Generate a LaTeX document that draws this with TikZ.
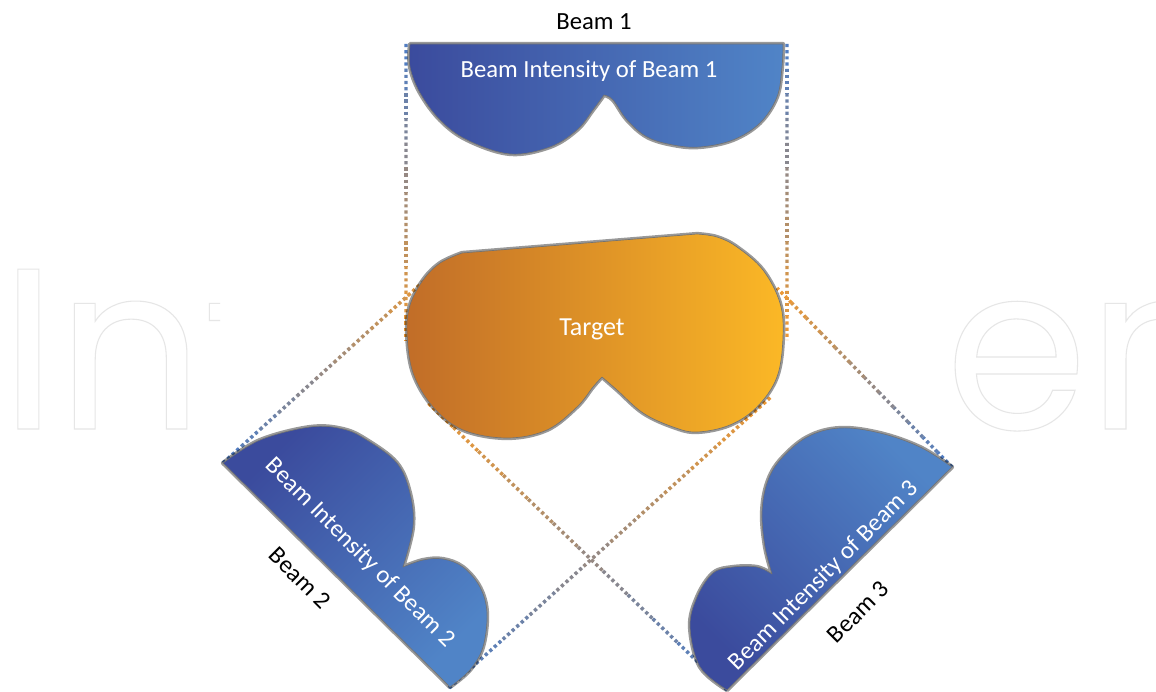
\documentclass[tikz,border=0pt]{standalone}
\usepackage{fontspec}
\setmainfont{Carlito}
\newfontfamily\wmfont{Poppins}
\usetikzlibrary{calc}
\definecolor{bdark}{HTML}{3B4B9D}
\definecolor{bmid}{HTML}{3F55A6}
\definecolor{blight}{HTML}{5084C7}
\definecolor{tdark}{HTML}{C16D28}
\definecolor{tmid}{HTML}{E39729}
\definecolor{tlight}{HTML}{FBB826}
\definecolor{dotblue}{HTML}{4A7CC8}
\definecolor{dotorange}{HTML}{F39A2E}
\definecolor{wmgray}{HTML}{E6E6E6}
\tikzset{
  shapeshadow/.style={draw=black, opacity=0.4, line width=3.2pt, line join=round},
  shapeedge/.style={draw=black!55, line width=0.5pt, line join=round},
  dotline/.style={line width=2.6pt, dash pattern=on 2.4pt off 2.2pt},
  lbl/.style={inner sep=0pt, font=\fontsize{18.5}{20}\selectfont},
  whitelbl/.style={lbl, text=white},
  blacklbl/.style={lbl, text=black},
  wm/.style={inner sep=0pt, text=wmgray, font=\wmfont\fontsize{172}{172}\selectfont},
}
\newcommand\gradline[2]{%
  \foreach \i in {0,...,11}{%
    \pgfmathsetmacro\pa{\i/12}%
    \pgfmathsetmacro\pb{(\i+1)/12}%
    \pgfmathtruncatemacro\pc{(\i+0.5)/12*100}%
    \draw[dotline, dotorange!\pc!dotblue] ($(#1)!\pa!(#2)$) -- ($(#1)!\pb!(#2)$);
  }}
\def\beamonepath{(410,44) -- (783,44) -- plot[smooth,tension=0.6] coordinates {(783,44) (782,67) (777,97) (760,123) (733,140) (700,147) (673,145) (647,137) (627,120) (613,100) (604,95)} -- plot[smooth,tension=0.6] coordinates {(604,95) (593,110) (577,130) (550,147) (510,154) (467,140) (440,120) (420,93) (410,67) (410,44)} -- cycle}
\def\targetpath{(462,253) -- (697,234) -- plot[smooth,tension=0.6] coordinates {(697,234) (717,237) (737,247) (763,270) (780,303) (783,337) (777,377) (757,407) (730,425) (697,432) (673,427) (643,413) (617,390) (602,377)} -- plot[smooth,tension=0.6] coordinates {(602,377) (593,387) (577,407) (547,430) (507,438) (463,430) (433,407) (413,373) (407,333) (410,305) (423,280) (440,263) (462,253)} -- cycle}
\def\beamtwopath{(223,463) -- plot[smooth,tension=0.6] coordinates {(223,463) (260,440) (310,427) (343,429) (367,440) (397,463) (410,493) (413,527) (403,567)} -- plot[smooth,tension=0.6] coordinates {(403,567) (423,560) (443,559) (463,567) (480,587) (487,613) (483,647) (470,670) (450,687)} -- cycle}
\def\beamthreepath{(727,690) -- plot[smooth,tension=0.6] coordinates {(727,690) (700,667) (690,627) (697,597) (713,573) (733,567) (757,567) (772,574)} -- plot[smooth,tension=0.6] coordinates {(772,574) (765,547) (762,513) (767,483) (780,460) (807,437) (840,428) (880,433) (920,447) (952,467)} -- cycle}
\begin{document}
\begin{tikzpicture}[x=0.75pt, y=-0.75pt]
\fill[white] (0,0) rectangle (1156,692);
\useasboundingbox (0,0) rectangle (1156,692);
% watermark
\begin{scope}
  \clip (0,0) rectangle (220,692);
  \node[wm, anchor=base west] (wmleft) at (0,429) {\special{pdf:literal direct 1 Tr 0.8 w}Int\special{pdf:literal direct 0 Tr 0.4 w}};
\end{scope}
\node[wm, anchor=base west] (wmright) at (945,429) {\special{pdf:literal direct 1 Tr 0.8 w}en\special{pdf:literal direct 0 Tr 0.4 w}};
% end points of the dotted beam edges
\coordinate (b1l) at (406,44);
\coordinate (t1l) at (406,340);
\coordinate (b1r) at (787,44);
\coordinate (t1r) at (787,340);
\coordinate (b2l) at (223,463);
\coordinate (t2l) at (445,262);
\coordinate (b2r) at (449,688);
\coordinate (t2r) at (772,396);
\coordinate (b3l) at (727,690);
\coordinate (t3l) at (428,403);
\coordinate (b3r) at (952,467);
\coordinate (t3r) at (777,288);
\gradline{b1l}{t1l}
\gradline{b1r}{t1r}
\gradline{b2l}{t2l}
\gradline{b2r}{t2r}
\gradline{b3l}{t3l}
\gradline{b3r}{t3r}
% shapes
\draw[shapeshadow] \beamonepath;
\shade[left color=bdark, middle color=bmid, right color=blight] \beamonepath;
\draw[shapeedge] \beamonepath;
\draw[shapeshadow] \targetpath;
\shade[left color=tdark, middle color=tmid, right color=tlight] \targetpath;
\draw[shapeedge] \targetpath;
\draw[shapeshadow] \beamtwopath;
\shade[top color=bdark, middle color=bmid, bottom color=blight, shading angle=45] \beamtwopath;
\draw[shapeedge] \beamtwopath;
\draw[shapeshadow] \beamthreepath;
\shade[top color=blight, middle color=bmid, bottom color=bdark, shading angle=-45] \beamthreepath;
\draw[shapeedge] \beamthreepath;
% labels
\node[blacklbl, anchor=base] (beam1) at (594,30) {Beam 1};
\node[whitelbl, anchor=base] (int1) at (589,78) {Beam Intensity of Beam 1};
\node[whitelbl, anchor=base, font=\fontsize{19.5}{21}\selectfont] (target) at (592,335) {Target};
\node[whitelbl, rotate=-45] (int2) at (360,553) {Beam Intensity of Beam 2};
\node[blacklbl, rotate=-45] (beam2) at (300,578) {Beam 2};
\node[whitelbl, rotate=45] (int3) at (824,576) {Beam Intensity of Beam 3};
\node[blacklbl, rotate=45] (beam3) at (858,612) {Beam 3};
\end{tikzpicture}
\end{document}
